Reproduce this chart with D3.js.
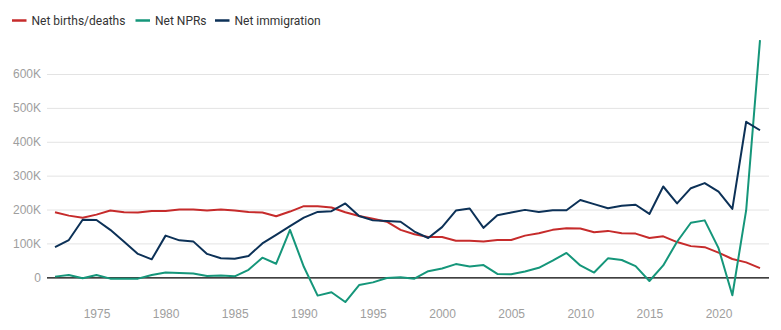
<!DOCTYPE html>
<html>
<head>
<meta charset="utf-8">
<script src="https://cdn.jsdelivr.net/npm/d3@7"></script>
<style>
  body { margin: 0; background: #fff; }
  svg { font-family: Roboto, "Noto Sans", sans-serif; }
  .tick text { fill: #9e9e9e; font-size: 12px; }
  .legend text { fill: #333; font-size: 12px; }
</style>
</head>
<body>
<div id="chart"></div>
<script>
const width = 781;
const height = 330;

// one value per year, 1972 - 2023
const years = d3.range(1972, 2024);
const birthsDeaths = [192, 182, 176, 185, 197, 192, 191, 196, 196, 200, 200, 197, 200, 197, 193, 191, 180, 194,
  210, 210, 206, 192, 181, 173, 164, 140, 127, 119, 119, 108, 108, 106, 110, 110, 123, 130, 140, 145, 144, 133,
  137, 130, 129, 116, 121, 104, 92, 89, 73, 54, 44, 27];
const netNPRs = [2, 7, -3, 7, -4, -4, -4, 7, 14, 13, 11, 4, 5, 3, 22, 58, 40, 140,
  31, -54, -44, -73, -23, -15, -2, 0, -4, 18, 26, 39, 32, 36, 10, 9, 17, 28, 49, 72, 35, 14,
  56, 51, 33, -11, 35, 105, 161, 168, 86, -53, 198, 700];
const netImmigration = [89, 110, 170, 169, 140, 105, 69, 53, 123, 109, 106, 69, 56, 55, 63, 100, 125, 151,
  176, 193, 195, 218, 181, 168, 166, 164, 135, 116, 148, 197, 203, 146, 183, 191, 199, 193, 198, 198, 228, 216,
  204, 211, 214, 187, 268, 218, 263, 278, 253, 202, 459, 434];

const seriesNames = ["Net births/deaths", "Net NPRs", "Net immigration"];
const seriesColors = ["#c62b2b", "#15967a", "#0c3157"];
const yTicks = [0, 100, 200, 300, 400, 500, 600];
const xTicks = [1975, 1980, 1985, 1990, 1995, 2000, 2005, 2010, 2015, 2020];

const series = [birthsDeaths, netNPRs, netImmigration];

const x = d3.scaleLinear().domain([1972, 2023]).range([55, 760]);
const y = d3.scaleLinear().domain([0, 600]).range([277.3, 74]);

const svg = d3.select("#chart").append("svg")
  .attr("width", width)
  .attr("height", height);

// horizontal grid + y labels
const yAxis = svg.append("g")
  .attr("transform", "translate(47,0)")
  .call(d3.axisLeft(y).tickValues(yTicks).tickSize(-722).tickPadding(6)
    .tickFormat(d => d === 0 ? "0" : d + "K"));
yAxis.select(".domain").remove();
yAxis.selectAll(".tick line").attr("stroke", "#e3e3e3");
yAxis.selectAll(".tick").filter(d => d === 0).select("line")
  .attr("stroke", "#000").attr("stroke-width", 1.2);

const xAxis = svg.append("g")
  .attr("transform", "translate(0,300)")
  .call(d3.axisBottom(x).tickValues(xTicks).tickSize(0).tickPadding(9).tickFormat(d3.format("d")));
xAxis.select(".domain").remove();

const line = d3.line()
  .x((d, i) => x(years[i]))
  .y(d => y(d));

svg.append("g").selectAll("path")
  .data(series)
  .join("path")
  .attr("d", line)
  .attr("fill", "none")
  .attr("stroke", (d, i) => seriesColors[i])
  .attr("stroke-width", 2)
  .attr("stroke-linejoin", "round");

// legend
const legendX = [12, 135.5, 215];
const legend = svg.append("g").attr("class", "legend")
  .selectAll("g")
  .data(seriesNames)
  .join("g")
  .attr("transform", (d, i) => `translate(${legendX[i]},20.5)`);
legend.append("line")
  .attr("x1", 0).attr("x2", 14.5)
  .attr("stroke", (d, i) => seriesColors[i])
  .attr("stroke-width", 2.5);
legend.append("text")
  .attr("x", 19.5)
  .attr("dy", "0.35em")
  .text(d => d);
</script>
</body>
</html>
